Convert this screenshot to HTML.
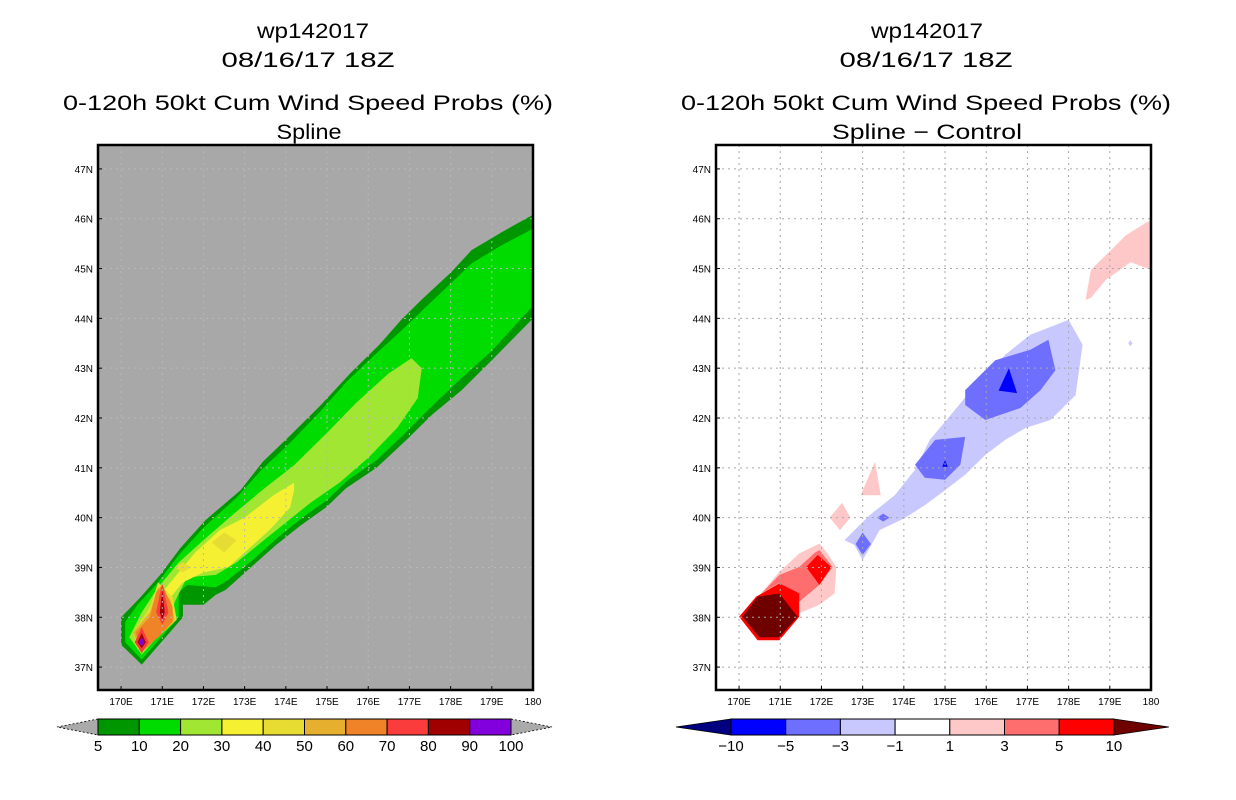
<!DOCTYPE html>
<html><head><meta charset="utf-8"><style>
html,body{margin:0;padding:0;background:#fff;}
svg{display:block;font-family:"Liberation Sans",sans-serif;}
</style></head><body>
<svg id="chart" width="1236" height="800" viewBox="0 0 1236 800" xmlns="http://www.w3.org/2000/svg">
<g id="titles" font-size="21" text-anchor="middle" fill="#000">
  <text x="313" y="38" textLength="112" lengthAdjust="spacingAndGlyphs">wp142017</text>
  <text x="308" y="67" textLength="173" lengthAdjust="spacingAndGlyphs">08/16/17 18Z</text>
  <text x="308" y="110" textLength="490" lengthAdjust="spacingAndGlyphs">0-120h 50kt Cum Wind Speed Probs (%)</text>
  <text x="309" y="139" textLength="65" lengthAdjust="spacingAndGlyphs">Spline</text>
  <text x="927" y="38" textLength="112" lengthAdjust="spacingAndGlyphs">wp142017</text>
  <text x="926" y="67" textLength="173" lengthAdjust="spacingAndGlyphs">08/16/17 18Z</text>
  <text x="926" y="110" textLength="490" lengthAdjust="spacingAndGlyphs">0-120h 50kt Cum Wind Speed Probs (%)</text>
  <text x="927" y="139" textLength="190" lengthAdjust="spacingAndGlyphs">Spline − Control</text>
</g>
<g id="left"></g>
<g id="right"></g>
<g id="cbars"></g>
</svg>
<script>
// ---- data ----
const lonTicks = [170,171,172,173,174,175,176,177,178,179,180];
const lonLabels = ["170E","171E","172E","173E","174E","175E","176E","177E","178E","179E","180"];
const latTicks = [37,38,39,40,41,42,43,44,45,46,47];
const latLabels = ["37N","38N","39N","40N","41N","42N","43N","44N","45N","46N","47N"];

const probLevels = ["5","10","20","30","40","50","60","70","80","90","100"];
const probColors = ["#009600","#00dc00","#a0e632","#f5f032","#e6dc32","#e6af2d","#f08228","#fa3c3c","#a00000","#8200dc"];
const diffLevels = ["−10","−5","−3","−1","1","3","5","10"];
const diffColors = ["#0000ff","#6e6eff","#c8c8ff","#ffffff","#ffc8c8","#ff6e6e","#ff0000"];
const diffLow = "#000080", diffHigh = "#6e0000";

const probBand5 = [[180,46.08],[179.24,45.73],[178.51,45.37],[178.02,44.93],[177.29,44.37],[176.8,43.97],[176.27,43.47],[175.59,42.92],[174.85,42.26],[174.12,41.66],[173.44,41.12],[172.9,40.55],[172.05,39.95],[171.44,39.39],[170.95,38.85],[170.46,38.39],[170.0,38.0],[170.0,37.45],[170.5,37.05],[171.5,38.0],[171.5,38.25],[172.0,38.25],[172.3,38.45],[172.54,38.55],[173.15,39.0],[173.76,39.45],[174.37,39.85],[174.98,40.21],[175.46,40.59],[176.2,41.0],[176.93,41.56],[177.54,42.06],[178.27,42.56],[179.0,43.16],[180,44.0]];
const probBand10 = [[180,45.8],[179.2,45.45],[178.5,45.1],[178,44.7],[177.3,44.15],[176.8,43.75],[176.2,43.3],[175.5,42.75],[174.8,42.1],[174.1,41.5],[173.4,40.95],[172.8,40.4],[172.0,39.8],[171.4,39.25],[170.9,38.7],[170.4,38.25],[170.1,37.9],[170.1,37.5],[170.5,37.15],[171.4,38.0],[171.4,38.5],[171.6,38.65],[172.3,38.6],[172.6,38.75],[173.2,39.15],[173.8,39.6],[174.4,40.0],[175.0,40.35],[175.5,40.75],[176.2,41.15],[176.9,41.7],[177.5,42.2],[178.2,42.75],[179,43.35],[180,44.25]];
const probBand20 = [[177.05,43.2],[176.5,42.9],[175.7,42.3],[175.0,41.7],[174.2,41.05],[173.5,40.6],[172.7,40.05],[172.0,39.55],[171.4,39.1],[170.9,38.6],[170.5,38.1],[170.2,37.6],[170.5,37.25],[171.2,37.9],[171.3,38.3],[171.6,38.8],[172.3,38.85],[172.8,39.1],[173.4,39.5],[174.0,39.9],[174.6,40.3],[175.3,40.7],[176.0,41.2],[176.7,41.8],[177.2,42.4],[177.3,43.0]];
const probBand30 = [[174.2,40.7],[173.7,40.45],[173.0,40.0],[172.4,39.75],[171.8,39.3],[171.3,38.8],[170.8,38.3],[170.4,37.75],[170.5,37.35],[171.0,37.9],[171.1,38.3],[171.5,38.7],[172.0,38.9],[172.6,39.0],[173.0,39.3],[173.6,39.75],[174.1,40.2],[174.2,40.55]];
const probBand40a = [[172.2,39.5],[172.5,39.7],[172.8,39.55],[172.5,39.3]];
const probBand40b = [[171.3,39.0],[171.5,39.1],[171.7,39.0],[171.5,38.9]];
const probBand40c = [[170.4,37.35],[170.3,37.7],[170.7,38.2],[170.9,38.7],[171.25,38.4],[171.35,37.95],[170.9,37.6]];
const probBand50 = [[170.45,37.35],[170.3,37.7],[170.7,38.1],[170.9,38.6],[171.2,38.35],[171.3,37.95],[170.9,37.6]];
const probBand60 = [[170.5,37.3],[170.35,37.7],[170.7,38.0],[170.85,38.5],[171.0,38.65],[171.25,38.2],[171.25,37.9],[170.9,37.6]];
const probBand70a = [[171,38.7],[170.85,38.1],[171,37.85],[171.15,38.1]];
const probBand70b = [[170.5,37.8],[170.33,37.5],[170.5,37.28],[170.67,37.5]];
const probBand80a = [[171,38.55],[170.94,38.1],[171,37.95],[171.06,38.1]];
const probBand80b = [[170.5,37.68],[170.4,37.5],[170.5,37.38],[170.6,37.5]];
const probBand90 = [[170.5,37.6],[170.43,37.5],[170.5,37.42],[170.57,37.5]];
const probBands = [[0,probBand5],[1,probBand10],[2,probBand20],[3,probBand30],[4,probBand40a],[4,probBand40b],[4,probBand40c],[5,probBand50],[6,probBand60],[7,probBand70a],[7,probBand70b],[8,probBand80a],[8,probBand80b],[9,probBand90]];

const diffPinkNE = [[178.41,44.37],[178.54,44.97],[179.39,45.67],[180,45.98],[180,44.97],[179.51,45.13],[178.9,44.77],[178.54,44.41]];
const diffPinkSmall = [[172.95,40.45],[173.3,41.12],[173.44,40.45]];
const diffPinkDiamond = [[172.2,40.0],[172.5,40.3],[172.7,40.0],[172.45,39.75]];
const diffLavender = [[172.56,39.55],[173.17,40.05],[173.78,40.45],[174.27,40.96],[174.63,41.56],[175.24,42.16],[175.73,42.66],[176.46,43.27],[177.07,43.67],[178.0,43.97],[178.34,43.47],[178.17,42.46],[177.56,41.96],[176.95,41.8],[176.46,41.56],[175.98,41.26],[175.49,40.86],[175.0,40.55],[174.51,40.25],[174.02,39.99],[173.41,39.75],[173.17,39.39],[173.0,39.15],[172.8,39.45]];
const diffLavDot = [[179.45,43.5],[179.5,43.56],[179.55,43.5],[179.5,43.44]];
const diffMedA = [[172.83,39.47],[173.0,39.7],[173.2,39.47],[173.0,39.25]];
const diffMedB = [[173.35,40.0],[173.5,40.08],[173.65,40.0],[173.5,39.92]];
const diffMedC = [[174.27,41.06],[174.76,41.56],[175.49,41.62],[175.37,41.06],[175.0,40.76],[174.51,40.8]];
const diffMedD = [[175.49,42.56],[176.22,43.16],[177.07,43.37],[177.51,43.57],[177.68,42.96],[177.32,42.56],[176.83,42.2],[175.98,41.96],[175.49,42.26]];
const diffBlueA = [[176.55,43.0],[176.3,42.55],[176.75,42.5]];
const diffBlueB = [[175.0,41.15],[174.93,41.02],[175.07,41.02]];
const diffPinkSW = [[170.53,38.48],[170.98,38.91],[171.46,39.28],[171.95,39.48],[172.15,39.28],[172.36,39.01],[172.32,38.48],[171.95,38.25],[171.46,38.08],[171.38,38.08]];
const diffRose = [[170.56,38.49],[170.98,38.85],[171.46,39.01],[171.83,39.29],[171.95,39.35],[172.27,39.01],[171.95,38.65],[171.46,38.31],[170.98,38.69]];
const diffRedA = [[171.63,39.01],[171.91,39.25],[172.24,39.01],[171.95,38.65]];
const diffRedB = [[170.0,38.01],[170.41,38.41],[170.98,38.68],[171.46,38.48],[171.46,38.01],[170.98,37.54],[170.45,37.54]];
const diffDark = [[170.08,38.01],[170.45,38.41],[170.98,38.48],[171.42,38.01],[170.98,37.6],[170.49,37.6]];
const diffBands = [["#ffc8c8",diffPinkNE],["#ffc8c8",diffPinkSmall],["#ffc8c8",diffPinkDiamond],["#c8c8ff",diffLavender],["#c8c8ff",diffLavDot],["#6e6eff",diffMedA],["#6e6eff",diffMedB],["#6e6eff",diffMedC],["#6e6eff",diffMedD],["#0000ff",diffBlueA],["#0000ff",diffBlueB],["#ffc8c8",diffPinkSW],["#ff6e6e",diffRose],["#ff0000",diffRedA],["#ff0000",diffRedB],["#6e0000",diffDark]];

// ---- rendering ----
const NS = "http://www.w3.org/2000/svg";
function mk(tag, attrs, parent){const e=document.createElementNS(NS,tag);for(const k in attrs)e.setAttribute(k,attrs[k]);parent.appendChild(e);return e;}
const W=435, H=545, TOP=145, LON0=169.44, LON1=180, LAT0=36.54, LAT1=47.48;
function makeAxes(x0){
  return {x: lon => x0 + (lon-LON0)/(LON1-LON0)*W, y: lat => TOP + (LAT1-lat)/(LAT1-LAT0)*H};
}
function pts(poly, ax){return poly.map(p=>ax.x(p[0]).toFixed(1)+","+ax.y(p[1]).toFixed(1)).join(" ");}

function drawPanel(g, x0, bg, bands, colorFn, gridColor, prefix){
  const ax = makeAxes(x0);
  const cp = mk("clipPath",{id:prefix+"-clip"},g);
  mk("rect",{x:x0,y:TOP,width:W,height:H},cp);
  const bgR = mk("rect",{x:x0,y:TOP,width:W,height:H,fill:bg},g);
  
  
  const fg = mk("g",{"clip-path":"url(#"+prefix+"-clip)"},g);
  bands.forEach((b,i)=>{
    const p = mk("polygon",{points:pts(b[1],ax),fill:colorFn(b[0])},fg);
    
    
  });
  lonTicks.forEach((lon,i)=>{
    const x=ax.x(lon);
    const l = mk("line",{x1:x,y1:TOP,x2:x,y2:TOP+H,stroke:gridColor,"stroke-width":1,"stroke-dasharray":"2,4"},fg);
    
    
    const t = mk("text",{x:x,y:TOP+H+15,"font-size":"10","text-anchor":"middle"},g);
    t.textContent = lonLabels[i];
    
    
    mk("line",{x1:x,y1:TOP+H,x2:x,y2:TOP+H-4,stroke:"#000"},g);
  });
  latTicks.forEach((lat,i)=>{
    const y=ax.y(lat);
    const l = mk("line",{x1:x0,y1:y,x2:x0+W,y2:y,stroke:gridColor,"stroke-width":1,"stroke-dasharray":"2,4"},fg);
    
    
    const t = mk("text",{x:x0-5,y:y+4,"font-size":"10","text-anchor":"end"},g);
    t.textContent = latLabels[i];
    
    
    mk("line",{x1:x0,y1:y,x2:x0+4,y2:y,stroke:"#000"},g);
  });
  const fr = mk("rect",{x:x0,y:TOP,width:W,height:H,fill:"none",stroke:"#000","stroke-width":2.5},g);
  
  
}
drawPanel(document.getElementById("left"), 98, "#a8a8a8", probBands, i=>probColors[i], "#b8b8b8", "left");
drawPanel(document.getElementById("right"), 716, "#ffffff", diffBands, c=>c, "#a8a8a8", "right");

function drawBar(g, xs, bw, colors, labels, lowC, highC, prefix, aw){
  const y0=719, h=16, n=colors.length, xe=xs+bw*n;
  const lt = mk("polygon",{points:`${xs},${y0} ${xs-aw},${y0+h/2} ${xs},${y0+h}`,fill:lowC,stroke:"#000","stroke-width":0.8,"stroke-dasharray":lowC=="#aaaaaa"?"2,2":"none"},g);
  
  
  const rt = mk("polygon",{points:`${xe},${y0} ${xe+aw},${y0+h/2} ${xe},${y0+h}`,fill:highC,stroke:"#000","stroke-width":0.8,"stroke-dasharray":highC=="#aaaaaa"?"2,2":"none"},g);
  
  
  colors.forEach((c,i)=>{
    const r = mk("rect",{x:xs+i*bw,y:y0,width:bw,height:h,fill:c,stroke:"#000","stroke-width":1},g);
    
    
  });
  labels.forEach((l,i)=>{
    const t = mk("text",{x:xs+i*bw,y:751,"font-size":"15","text-anchor":"middle"},g);
    t.textContent = l;
    
    
  });
}
const cb = document.getElementById("cbars");
drawBar(cb, 98, 41.3, probColors, probLevels, "#aaaaaa", "#aaaaaa", "left", 41);
drawBar(cb, 731, 54.7, diffColors, diffLevels, diffLow, diffHigh, "right", 55);
</script>
</body></html>
